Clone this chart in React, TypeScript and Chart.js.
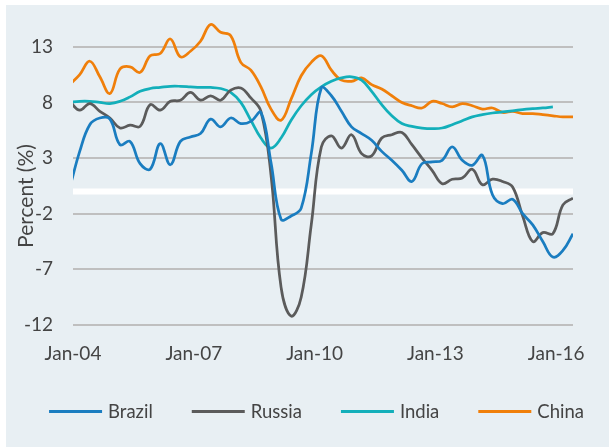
import React, { useEffect, useRef } from 'react';
import { Chart, registerables } from 'chart.js';

Chart.register(...registerables);

// Quarter-end dates of the observations
const quarters = [
  'Dec-03',
  'Mar-04', 'Jun-04', 'Sep-04', 'Dec-04',
  'Mar-05', 'Jun-05', 'Sep-05', 'Dec-05',
  'Mar-06', 'Jun-06', 'Sep-06', 'Dec-06',
  'Mar-07', 'Jun-07', 'Sep-07', 'Dec-07',
  'Mar-08', 'Jun-08', 'Sep-08', 'Dec-08',
  'Mar-09', 'Jun-09', 'Sep-09', 'Dec-09',
  'Mar-10', 'Jun-10', 'Sep-10', 'Dec-10',
  'Mar-11', 'Jun-11', 'Sep-11', 'Dec-11',
  'Mar-12', 'Jun-12', 'Sep-12', 'Dec-12',
  'Mar-13', 'Jun-13', 'Sep-13', 'Dec-13',
  'Mar-14', 'Jun-14', 'Sep-14', 'Dec-14',
  'Mar-15', 'Jun-15', 'Sep-15', 'Dec-15',
  'Mar-16', 'Jun-16',
];

const brazil = [
  0.3,
  3.6, 6.0, 6.6, 6.5,
  4.2, 4.5, 2.5, 2.0,
  4.3, 2.4, 4.5, 4.9,
  5.2, 6.5, 5.8, 6.6,
  6.1, 6.3, 7.1, 2.6,
  -2.5, -2.2, -1.5, 3.4,
  9.3, 8.6, 7.2, 5.8,
  5.2, 4.6, 3.6, 2.8,
  1.9, 0.9, 2.5, 2.65,
  2.8, 4.0, 2.8, 2.35,
  3.25, -0.3, -1.1, -0.7,
  -2.0, -3.0, -4.5, -5.9,
  -5.3, -3.8,
];

const russia = [
  8.1,
  7.3, 7.9, 7.2, 6.6,
  5.7, 5.95, 5.85, 7.8,
  7.3, 8.1, 8.2, 8.9,
  8.2, 8.6, 8.2, 9.1,
  9.3, 8.4, 7.2, 1.5,
  -8.6, -11.2, -9.5, -3.0,
  4.0, 5.0, 3.9, 5.1,
  3.4, 3.2, 4.8, 5.1,
  5.3, 4.2, 3.0, 1.9,
  0.7, 1.1, 1.2, 2.0,
  0.6, 1.1, 0.9, 0.4,
  -2.2, -4.5, -3.7, -3.8,
  -1.2, -0.6,
];

const india = [
  8.0,
  8.1, 8.1, 8.0, 7.9,
  8.1, 8.5, 9.0, 9.25,
  9.35, 9.45, 9.45, 9.4,
  9.35, 9.35, 9.25, 8.9,
  8.0, 6.4, 4.8, 3.9,
  4.8, 6.4, 7.7, 8.7,
  9.4, 9.9, 10.2, 10.3,
  10.0, 9.0, 7.8, 6.8,
  6.1, 5.85, 5.7, 5.65,
  5.7, 6.0, 6.35, 6.7,
  6.9, 7.05, 7.15, 7.25,
  7.35, 7.45, 7.5, 7.6,
];

const china = [
  9.6,
  10.5, 11.7, 10.3, 8.8,
  11.0, 11.2, 10.7, 12.2,
  12.4, 13.7, 12.1, 12.6,
  13.5, 15.0, 14.3, 14.0,
  11.6, 10.9, 9.4, 7.4,
  6.4, 8.3, 10.4, 11.6,
  12.2, 10.9, 10.0, 9.9,
  10.2, 9.6, 9.2, 8.6,
  8.0, 7.7, 7.5, 8.1,
  7.9, 7.6, 7.9, 7.7,
  7.4, 7.5, 7.1, 7.2,
  7.0, 7.0, 6.9, 6.8,
  6.7, 6.7,
];

const xTickLabels = ['Jan-04', 'Jan-07', 'Jan-10', 'Jan-13', 'Jan-16'];
const yTicks = [-12, -7, -2, 3, 8, 13];
const seriesNames = ['Brazil', 'Russia', 'India', 'China'];
const seriesColors = ['#1a7dc0', '#5b5b5b', '#13afba', '#f07f0a'];

const MONTHS = ['Jan', 'Feb', 'Mar', 'Apr', 'May', 'Jun', 'Jul', 'Aug', 'Sep', 'Oct', 'Nov', 'Dec'];
// months elapsed since Jan-04
const monthOffset = (label: string) => {
  const [m, y] = label.split('-');
  return (2000 + Number(y) - 2004) * 12 + MONTHS.indexOf(m);
};

const FONT = 'Lato, "Open Sans", sans-serif';
const TEXT = '#444444';

const toPoints = (vals: number[]) => vals.map((v, i) => ({ x: monthOffset(quarters[i]), y: v }));

const bgPlugin = {
  id: 'bg',
  beforeDraw(chart: any) {
    const { ctx, width, height } = chart;
    ctx.save();
    ctx.fillStyle = '#ffffff';
    ctx.fillRect(0, 0, width, height);
    ctx.fillStyle = '#e8eff3';
    ctx.fillRect(6, 5, width - 6, height - 6);
    ctx.restore();
  },
};

const zeroLinePlugin = {
  id: 'zeroLine',
  beforeDatasetsDraw(chart: any) {
    const { ctx, chartArea, scales } = chart;
    const y = scales.y.getPixelForValue(0);
    ctx.save();
    ctx.strokeStyle = '#ffffff';
    ctx.lineWidth = 6;
    ctx.beginPath();
    ctx.moveTo(chartArea.left, y);
    ctx.lineTo(chartArea.right, y);
    ctx.stroke();
    ctx.restore();
  },
};

const yTitlePlugin = {
  id: 'yTitle',
  afterDraw(chart: any) {
    const { ctx } = chart;
    ctx.save();
    ctx.translate(26, 196);
    ctx.rotate(-Math.PI / 2);
    ctx.font = `21px ${FONT}`;
    ctx.fillStyle = TEXT;
    ctx.textAlign = 'center';
    ctx.textBaseline = 'middle';
    ctx.fillText('Percent (%)', 0, 0);
    ctx.restore();
  },
};

const legendPlugin = {
  id: 'customLegend',
  afterDraw(chart: any) {
    const { ctx } = chart;
    const lineLen = 53;
    const textGap = 6;
    const itemGap = 39;
    const y = 411.5;
    ctx.save();
    ctx.font = `18.5px ${FONT}`;
    const items = chart.data.datasets.map((ds: any) => ({
      label: ds.label,
      color: ds.borderColor,
      w: lineLen + textGap + ctx.measureText(ds.label).width,
    }));
    const total = items.reduce((s: number, it: any) => s + it.w, 0) + itemGap * (items.length - 1);
    let x = 316.5 - total / 2;
    ctx.textBaseline = 'middle';
    ctx.textAlign = 'left';
    items.forEach((it: any) => {
      ctx.strokeStyle = it.color;
      ctx.lineWidth = 3;
      ctx.beginPath();
      ctx.moveTo(x, y);
      ctx.lineTo(x + lineLen, y);
      ctx.stroke();
      ctx.fillStyle = TEXT;
      ctx.fillText(it.label, x + lineLen + textGap, y + 1);
      x += it.w + itemGap;
    });
    ctx.restore();
  },
};

export default function App() {
  const ref = useRef<HTMLCanvasElement | null>(null);

  useEffect(() => {
    document.body.style.margin = '0';
    const canvas = ref.current;
    if (!canvas) return;
    const allSeries = [brazil, russia, india, china];
    const chart = new Chart(canvas, {
      type: 'line',
      data: {
        datasets: allSeries.map((vals, i) => ({
          label: seriesNames[i],
          data: toPoints(vals),
          borderColor: seriesColors[i],
          backgroundColor: seriesColors[i],
          borderWidth: 2.75,
          pointRadius: 0,
          pointHoverRadius: 0,
          tension: 0.4,
          fill: false,
          clip: 0,
        })),
      },
      options: {
        responsive: false,
        animation: false,
        events: [],
        layout: { padding: { top: 13.4, left: 0, right: 36, bottom: 83 } },
        plugins: {
          legend: { display: false },
          tooltip: { enabled: false },
          title: { display: false },
        },
        scales: {
          x: {
            type: 'linear',
            min: 0,
            max: 149,
            grid: { display: false, drawTicks: false },
            border: { display: false },
            afterBuildTicks: (scale: any) => {
              scale.ticks = xTickLabels.map((l) => ({ value: monthOffset(l) }));
            },
            afterFit: (scale: any) => {
              scale.height = 40;
            },
            ticks: {
              autoSkip: false,
              maxRotation: 0,
              padding: 17,
              color: TEXT,
              font: { family: FONT, size: 19 },
              callback: (v: any) => {
                const idx = xTickLabels.findIndex((l) => monthOffset(l) === v);
                return idx >= 0 ? xTickLabels[idx] : '';
              },
            },
          },
          y: {
            type: 'linear',
            min: -12,
            max: 16,
            afterBuildTicks: (scale: any) => {
              scale.ticks = yTicks.map((v) => ({ value: v }));
            },
            afterFit: (scale: any) => {
              scale.width = 73;
              scale.paddingTop = 0;
              scale.paddingBottom = 0;
            },
            grid: { color: '#bfbfbf', lineWidth: 2, drawTicks: false },
            border: { display: false },
            ticks: {
              padding: 20,
              color: TEXT,
              font: { family: FONT, size: 19 },
            },
          },
        },
      },
      plugins: [bgPlugin, zeroLinePlugin, yTitlePlugin, legendPlugin],
    } as any);
    return () => chart.destroy();
  }, []);

  return (
    <div style={{ width: 609, height: 448 }}>
      <canvas ref={ref} width={609} height={448} style={{ display: 'block', width: 609, height: 448 }} />
    </div>
  );
}
